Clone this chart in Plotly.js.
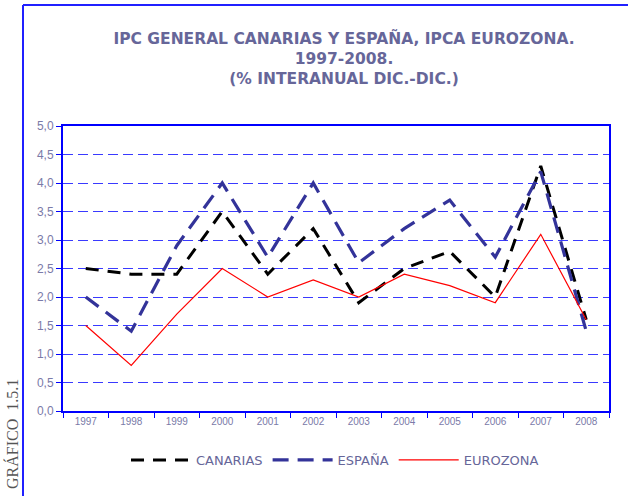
<!DOCTYPE html>
<html>
<head>
<meta charset="utf-8">
<script src="https://cdn.plot.ly/plotly-3.0.1.min.js"></script>
<style>html,body{margin:0;padding:0;background:#fff;}#chart{width:628px;height:496px;}</style>
</head>
<body>
<div id="chart"></div>
<script>
const years = ['1997','1998','1999','2000','2001','2002','2003','2004','2005','2006','2007','2008'];
const canarias = [2.5, 2.4, 2.4, 3.5, 2.4, 3.2, 1.9, 2.5, 2.8, 2.0, 4.3, 1.6];
const espana   = [2.0, 1.4, 2.9, 4.0, 2.7, 4.0, 2.6, 3.2, 3.7, 2.7, 4.2, 1.4];
const eurozona = [1.5, 0.8, 1.7, 2.5, 2.0, 2.3, 2.0, 2.4, 2.2, 1.9, 3.1, 1.6];
const yTicks = [0, 0.5, 1, 1.5, 2, 2.5, 3, 3.5, 4, 4.5, 5];

const L = 63, R = 609, T = 126, B = 411;
const W = R - L, H = B - T;
const px = x => (x - L) / W;
const py = y => (B - y) / H;

const traces = [
  {x: years, y: canarias, name: 'CANARIAS', type: 'scatter', mode: 'lines',
   line: {color: '#000000', width: 3, dash: '13px,9px'}},
  {x: years, y: espana, name: 'ESPAÑA', type: 'scatter', mode: 'lines',
   line: {color: '#333399', width: 3.2, dash: '16px,9px'}},
  {x: years, y: eurozona, name: 'EUROZONA', type: 'scatter', mode: 'lines',
   line: {color: '#ff0000', width: 1.2}}
];

const layout = {
  width: 628, height: 496,
  margin: {l: L, r: 628 - R, t: T, b: 496 - B, pad: 0},
  paper_bgcolor: '#ffffff', plot_bgcolor: '#ffffff',
  separators: ',.',
  showlegend: true,
  title: {
    text: 'IPC GENERAL CANARIAS Y ESPAÑA, IPCA EUROZONA.<br>1997-2008.<br>(% INTERANUAL DIC.-DIC.)',
    font: {family: 'DejaVu Sans', size: 15.5, color: '#666699', weight: 'bold'},
    x: px(344), xref: 'paper', xanchor: 'center',
    y: 1 - 44 / 496, yanchor: 'middle'
  },
  xaxis: {
    type: 'category', tickson: 'boundaries', ticks: 'outside', ticklen: 5,
    tickcolor: '#0000ff', linecolor: '#0000ff', linewidth: 2, mirror: true,
    showgrid: false, zeroline: false,
    tickfont: {family: 'Liberation Sans', size: 10, color: '#7a7aa8'},
    range: [-0.5, 11.5], fixedrange: true
  },
  yaxis: {
    range: [0, 5], tickvals: yTicks, tickformat: '.1f',
    ticks: 'outside', ticklen: 5, tickcolor: '#0000ff',
    linecolor: '#0000ff', linewidth: 2, mirror: true,
    showgrid: true, gridcolor: '#3a3aff', gridwidth: 1, griddash: '10px,5px',
    zeroline: false,
    tickfont: {family: 'Liberation Sans', size: 12, color: '#7a7aa8'}
  },
  legend: {
    orientation: 'h', x: px(335), xanchor: 'center', y: py(460), yanchor: 'middle',
    font: {family: 'DejaVu Sans', size: 13, color: '#666699'},
    itemwidth: 60, tracegroupgap: 0, bgcolor: 'rgba(0,0,0,0)'
  },
  shapes: [
    {type: 'line', xref: 'paper', yref: 'paper', x0: px(23), x1: px(628), y0: py(5), y1: py(5),
     line: {color: '#2020ff', width: 2}},
    {type: 'line', xref: 'paper', yref: 'paper', x0: px(23), x1: px(23), y0: py(5), y1: py(496),
     line: {color: '#2020ff', width: 2}}
  ],
  annotations: [
    {text: 'GRÁFICO  1.5.1', xref: 'paper', yref: 'paper', x: px(12), y: py(434),
     xanchor: 'center', yanchor: 'middle', textangle: -90, showarrow: false,
     font: {family: 'Liberation Serif', size: 16, color: '#555555'}}
  ]
};

Plotly.newPlot('chart', traces, layout, {displayModeBar: false, staticPlot: true});
</script>
</body>
</html>
